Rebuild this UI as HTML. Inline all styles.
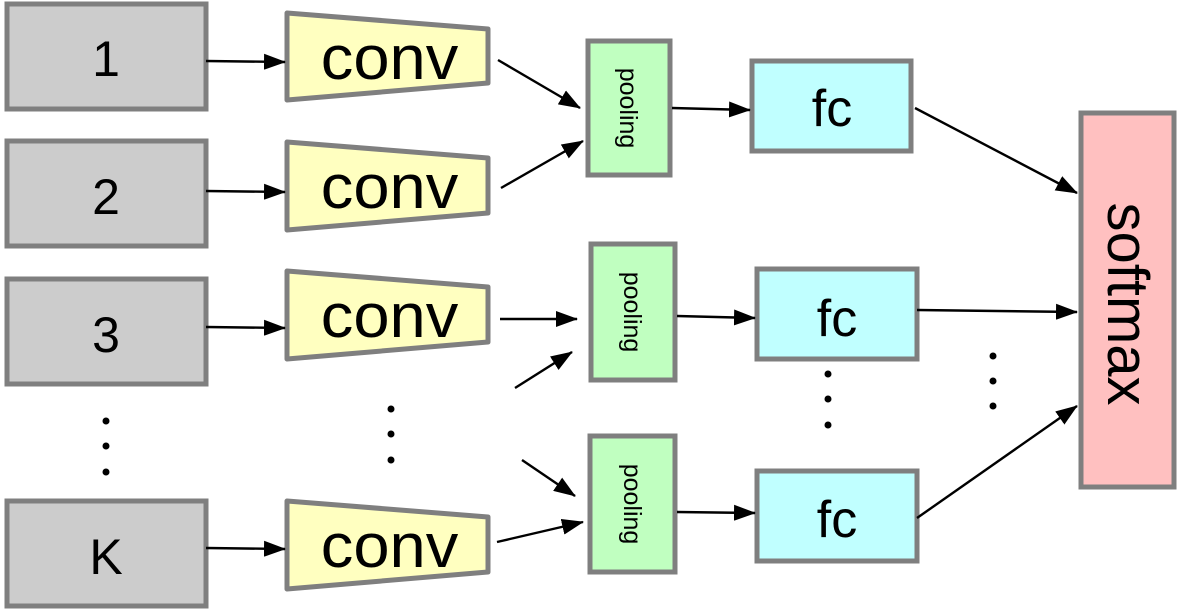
<!DOCTYPE html>
<html><head><style>
html,body{margin:0;padding:0;background:#fff;}
svg{display:block;}
text{font-family:"Liberation Sans",sans-serif;fill:#000;}
</style></head><body>
<svg width="1194" height="616" viewBox="0 0 1194 616" xmlns="http://www.w3.org/2000/svg">
<defs>
<marker id="a" markerWidth="22" markerHeight="16" refX="21" refY="8" orient="auto" markerUnits="userSpaceOnUse" viewBox="0 0 22 16">
<path d="M0,0 L22,8 L0,16 z" fill="#000"/>
</marker>
</defs>
<g fill="#ccc" stroke="#7f7f7f" stroke-width="5">
<rect x="7" y="4" width="199" height="105"/>
<rect x="7" y="141" width="199" height="105"/>
<rect x="7" y="279" width="199" height="105"/>
<rect x="7" y="501" width="199" height="105"/>
</g>
<g font-size="50" text-anchor="middle">
<text x="106" y="76">1</text>
<text x="106" y="214">2</text>
<text x="106" y="352">3</text>
<text x="106" y="574">K</text>
</g>
<g fill="#ffffc0" stroke="#7f7f7f" stroke-width="5" stroke-linejoin="round">
<polygon points="287,13 488,29 488,83 287,100"/>
<polygon points="287,142 488,158 488,213 287,230"/>
<polygon points="287,271 488,287 488,342 287,359"/>
<polygon points="287,501 488,517 488,572 287,589"/>
</g>
<g font-size="62" text-anchor="middle" transform="scale(1.05,1)">
<text x="371" y="79">conv</text>
<text x="371" y="208">conv</text>
<text x="371" y="337">conv</text>
<text x="371" y="567">conv</text>
</g>
<g fill="#c0ffc0" stroke="#7f7f7f" stroke-width="5">
<rect x="588" y="41" width="82" height="134"/>
<rect x="591" y="244" width="84" height="136"/>
<rect x="590" y="436" width="85" height="136"/>
</g>
<g font-size="25" text-anchor="middle">
<text transform="translate(620,108) rotate(90)" x="0" y="0">pooling</text>
<text transform="translate(624,312) rotate(90)" x="0" y="0">pooling</text>
<text transform="translate(624,504) rotate(90)" x="0" y="0">pooling</text>
</g>
<g fill="#c0ffff" stroke="#7f7f7f" stroke-width="5">
<rect x="752" y="61" width="159" height="90"/>
<rect x="757" y="269" width="160" height="90"/>
<rect x="757" y="471" width="160" height="90"/>
</g>
<g font-size="52" text-anchor="middle">
<text x="832" y="126">fc</text>
<text x="837" y="336">fc</text>
<text x="837" y="537">fc</text>
</g>
<rect x="1081" y="113" width="93" height="374" fill="#ffc0c0" stroke="#7f7f7f" stroke-width="5"/>
<text transform="translate(1108,304) rotate(90)" font-size="58" text-anchor="middle">softmax</text>
<g stroke="#000" stroke-width="2.4" fill="none" marker-end="url(#a)">
<line x1="206" y1="61" x2="285" y2="62"/>
<line x1="206" y1="191" x2="285" y2="192"/>
<line x1="206" y1="327" x2="285" y2="328"/>
<line x1="206" y1="548" x2="285" y2="549"/>
<line x1="498" y1="60" x2="580" y2="108"/>
<line x1="501" y1="188" x2="583" y2="141"/>
<line x1="672" y1="108" x2="750" y2="110"/>
<line x1="915" y1="108" x2="1077" y2="193"/>
<line x1="500" y1="319" x2="577" y2="319"/>
<line x1="515" y1="388" x2="572" y2="352"/>
<line x1="677" y1="316" x2="755" y2="318"/>
<line x1="917" y1="310" x2="1077" y2="312"/>
<line x1="522" y1="460" x2="575" y2="496"/>
<line x1="497" y1="542" x2="583" y2="522"/>
<line x1="677" y1="512" x2="755" y2="513"/>
<line x1="917" y1="518" x2="1077" y2="406"/>
</g>
<g fill="#000">
<circle cx="106" cy="421" r="3.5"/><circle cx="106" cy="446" r="3.5"/><circle cx="106" cy="472" r="3.5"/>
<circle cx="391" cy="409" r="3.5"/><circle cx="391" cy="434" r="3.5"/><circle cx="391" cy="460" r="3.5"/>
<circle cx="828" cy="374" r="3.5"/><circle cx="828" cy="399" r="3.5"/><circle cx="828" cy="425" r="3.5"/>
<circle cx="993" cy="356" r="3.5"/><circle cx="993" cy="381" r="3.5"/><circle cx="993" cy="406" r="3.5"/>
</g>
</svg>
</body></html>
